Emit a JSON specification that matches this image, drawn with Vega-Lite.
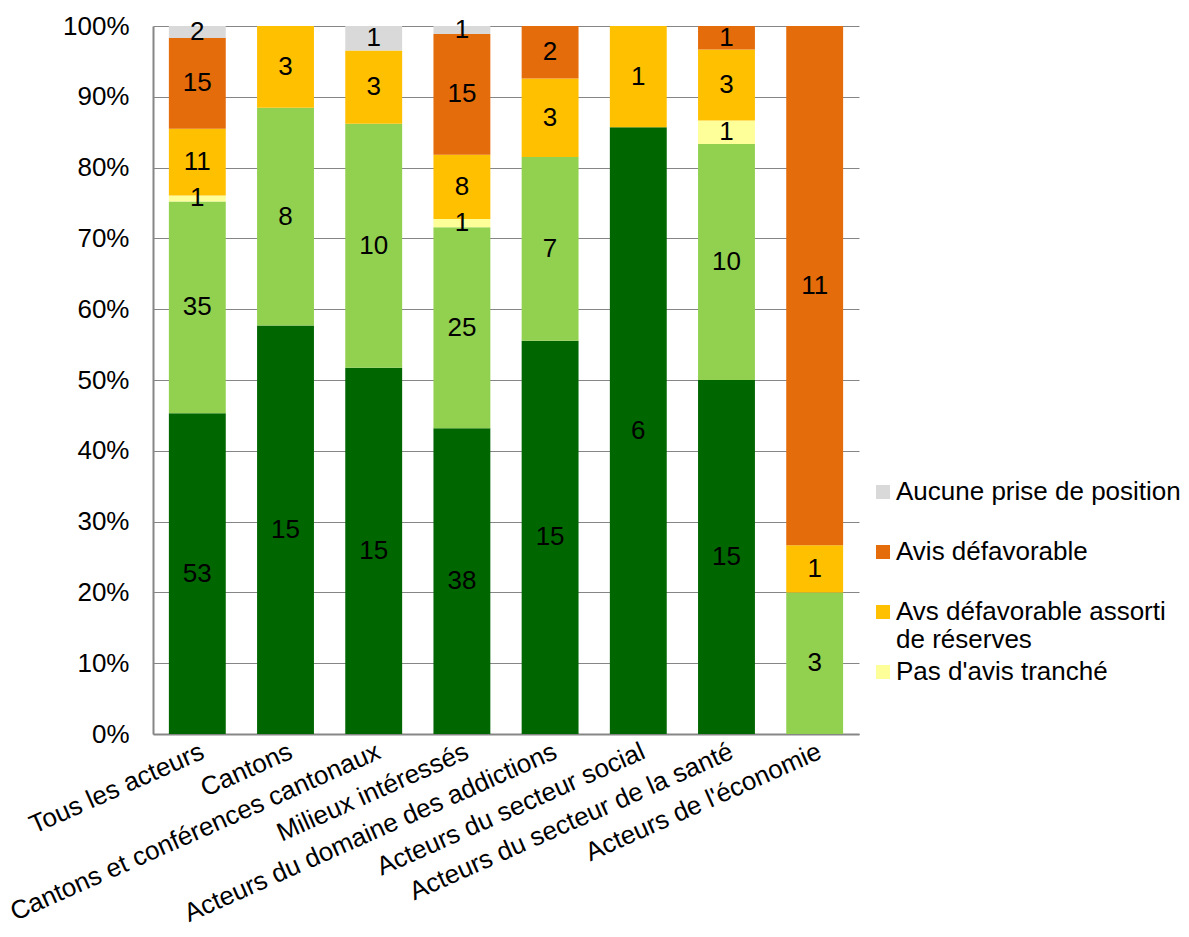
{
  "$schema": "https://vega.github.io/schema/vega-lite/v6.json",
  "autosize": "none",
  "width": 706,
  "height": 708,
  "padding": {"left": 153, "top": 26, "right": 330, "bottom": 203},
  "background": "white",
  "config": {
    "font": "Liberation Sans",
    "view": {"stroke": null},
    "axis": {"labelFont": "Liberation Sans", "labelFontSize": 26, "labelColor": "black", "domainColor": "#868686", "gridColor": "#868686", "tickColor": "#868686"},
    "legend": {"labelFont": "Liberation Sans", "labelFontSize": 26, "labelColor": "black"}
  },
  "data": {
    "values": [
      {"groupe": "Tous les acteurs", "avis": "Avis favorable", "rang": 1, "n": 53},
      {"groupe": "Tous les acteurs", "avis": "Avis favorable assorti de réserves", "rang": 2, "n": 35},
      {"groupe": "Tous les acteurs", "avis": "Pas d'avis tranché", "rang": 3, "n": 1},
      {"groupe": "Tous les acteurs", "avis": "Avs défavorable assorti de réserves", "rang": 4, "n": 11},
      {"groupe": "Tous les acteurs", "avis": "Avis défavorable", "rang": 5, "n": 15},
      {"groupe": "Tous les acteurs", "avis": "Aucune prise de position", "rang": 6, "n": 2},
      {"groupe": "Cantons", "avis": "Avis favorable", "rang": 1, "n": 15},
      {"groupe": "Cantons", "avis": "Avis favorable assorti de réserves", "rang": 2, "n": 8},
      {"groupe": "Cantons", "avis": "Avs défavorable assorti de réserves", "rang": 4, "n": 3},
      {"groupe": "Cantons et conférences cantonaux", "avis": "Avis favorable", "rang": 1, "n": 15},
      {"groupe": "Cantons et conférences cantonaux", "avis": "Avis favorable assorti de réserves", "rang": 2, "n": 10},
      {"groupe": "Cantons et conférences cantonaux", "avis": "Avs défavorable assorti de réserves", "rang": 4, "n": 3},
      {"groupe": "Cantons et conférences cantonaux", "avis": "Aucune prise de position", "rang": 6, "n": 1},
      {"groupe": "Milieux intéressés", "avis": "Avis favorable", "rang": 1, "n": 38},
      {"groupe": "Milieux intéressés", "avis": "Avis favorable assorti de réserves", "rang": 2, "n": 25},
      {"groupe": "Milieux intéressés", "avis": "Pas d'avis tranché", "rang": 3, "n": 1},
      {"groupe": "Milieux intéressés", "avis": "Avs défavorable assorti de réserves", "rang": 4, "n": 8},
      {"groupe": "Milieux intéressés", "avis": "Avis défavorable", "rang": 5, "n": 15},
      {"groupe": "Milieux intéressés", "avis": "Aucune prise de position", "rang": 6, "n": 1},
      {"groupe": "Acteurs du domaine des addictions", "avis": "Avis favorable", "rang": 1, "n": 15},
      {"groupe": "Acteurs du domaine des addictions", "avis": "Avis favorable assorti de réserves", "rang": 2, "n": 7},
      {"groupe": "Acteurs du domaine des addictions", "avis": "Avs défavorable assorti de réserves", "rang": 4, "n": 3},
      {"groupe": "Acteurs du domaine des addictions", "avis": "Avis défavorable", "rang": 5, "n": 2},
      {"groupe": "Acteurs du secteur social", "avis": "Avis favorable", "rang": 1, "n": 6},
      {"groupe": "Acteurs du secteur social", "avis": "Avs défavorable assorti de réserves", "rang": 4, "n": 1},
      {"groupe": "Acteurs du secteur de la santé", "avis": "Avis favorable", "rang": 1, "n": 15},
      {"groupe": "Acteurs du secteur de la santé", "avis": "Avis favorable assorti de réserves", "rang": 2, "n": 10},
      {"groupe": "Acteurs du secteur de la santé", "avis": "Pas d'avis tranché", "rang": 3, "n": 1},
      {"groupe": "Acteurs du secteur de la santé", "avis": "Avs défavorable assorti de réserves", "rang": 4, "n": 3},
      {"groupe": "Acteurs du secteur de la santé", "avis": "Avis défavorable", "rang": 5, "n": 1},
      {"groupe": "Acteurs de l'économie", "avis": "Avis favorable assorti de réserves", "rang": 2, "n": 3},
      {"groupe": "Acteurs de l'économie", "avis": "Avs défavorable assorti de réserves", "rang": 4, "n": 1},
      {"groupe": "Acteurs de l'économie", "avis": "Avis défavorable", "rang": 5, "n": 11}
    ]
  },
  "encoding": {
    "x": {
      "field": "groupe", "type": "nominal", "sort": null, "title": null,
      "scale": {"paddingInner": 0.355, "paddingOuter": 0.18},
      "axis": {"labelAngle": -24, "labelFontSize": 26, "labelAlign": "right", "labelBaseline": "top", "ticks": false, "labelPadding": 4, "labelLimit": 0, "domainWidth": 2}
    }
  },
  "layer": [
    {
      "mark": {"type": "bar"},
      "encoding": {
        "y": {
          "field": "n", "type": "quantitative", "stack": "normalize", "title": null,
          "scale": {"domain": [0, 1]},
          "axis": {"format": ".0%", "values": [0, 0.1, 0.2, 0.3, 0.4, 0.5, 0.6, 0.7, 0.8, 0.9, 1], "ticks": false, "labelPadding": 24, "domainWidth": 2}
        },
        "color": {
          "field": "avis", "type": "nominal",
          "scale": {
            "domain": ["Avis favorable", "Avis favorable assorti de réserves", "Pas d'avis tranché", "Avs défavorable assorti de réserves", "Avis défavorable", "Aucune prise de position"],
            "range": ["#006600", "#92D050", "#FFFF99", "#FFC000", "#E46C0A", "#D9D9D9"]
          },
          "legend": {
            "title": null,
            "orient": "none",
            "legendX": 717,
            "legendY": 453,
            "values": ["Aucune prise de position", "Avis défavorable", "Avs défavorable assorti de réserves", "Pas d'avis tranché"],
            "symbolType": "square",
            "symbolSize": 196,
            "symbolStrokeWidth": 0,
            "labelOffset": 0,
            "labelLimit": 0,
            "rowPadding": 6,
            "gridAlign": "all",
            "labelExpr": "datum.label == 'Avs défavorable assorti de réserves' ? ['Avs défavorable assorti', 'de réserves'] : [datum.label, '']",
            "labelLineHeight": 28
          }
        },
        "order": {"field": "rang", "type": "quantitative", "sort": "ascending"}
      }
    },
    {
      "mark": {"type": "text", "fontSize": 26, "color": "black", "baseline": "middle", "font": "Liberation Sans"},
      "encoding": {
        "y": {"field": "n", "type": "quantitative", "stack": "normalize", "bandPosition": 0.5},
        "detail": {"field": "avis", "type": "nominal"},
        "order": {"field": "rang", "type": "quantitative", "sort": "ascending"},
        "text": {"field": "n", "type": "quantitative"}
      }
    }
  ]
}
